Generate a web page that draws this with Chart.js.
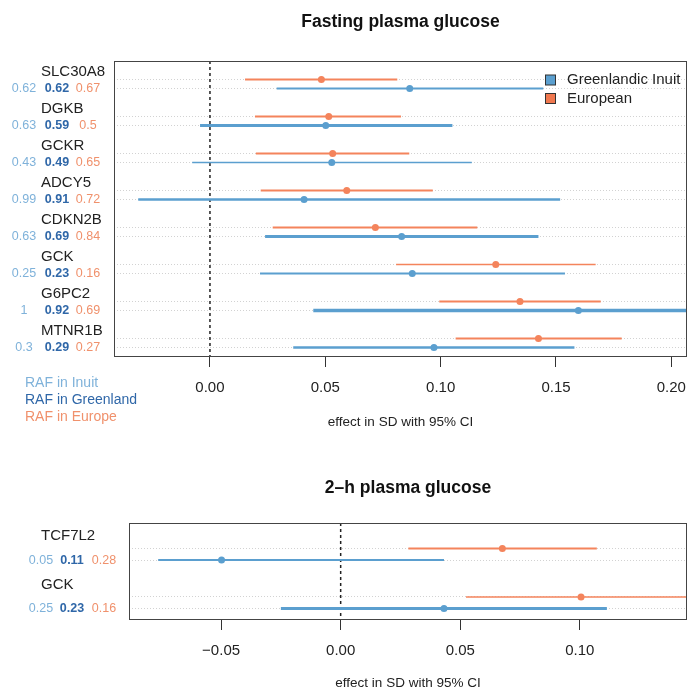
<!DOCTYPE html>
<html>
<head>
<meta charset="utf-8">
<script src="https://cdn.jsdelivr.net/npm/chart.js@4.4.1/dist/chart.umd.min.js"></script>
<style>
  html, body { margin: 0; padding: 0; background: #fff; overflow: hidden; }
  canvas { position: absolute; left: 0; display: block; }
  #fastingChart { top: 0; }
  #twohChart { top: 440px; }
</style>
</head>
<body>
<canvas id="fastingChart" width="688" height="440"></canvas>
<canvas id="twohChart" width="688" height="251"></canvas>
<script>
// ---- Fasting plasma glucose ----
const fgGenes = ['SLC30A8', 'DGKB', 'GCKR', 'ADCY5', 'CDKN2B', 'GCK', 'G6PC2', 'MTNR1B'];
const fgRafInuit = ['0.62', '0.63', '0.43', '0.99', '0.63', '0.25', '1', '0.3'];
const fgRafGreenland = ['0.62', '0.59', '0.49', '0.91', '0.69', '0.23', '0.92', '0.29'];
const fgRafEurope = ['0.67', '0.5', '0.65', '0.72', '0.84', '0.16', '0.69', '0.27'];
const fgInuitEst = [0.0866, 0.0502, 0.0528, 0.0408, 0.0831, 0.0877, 0.1597, 0.0971];
const fgInuitLo = [0.0289, -0.0043, -0.0077, -0.0311, 0.0239, 0.0217, 0.0448, 0.0361];
const fgInuitHi = [0.1445, 0.1051, 0.1135, 0.1518, 0.1424, 0.1539, 0.2746, 0.1580];
const fgEuroEst = [0.0483, 0.0515, 0.0532, 0.0593, 0.0717, 0.1239, 0.1344, 0.1424];
const fgEuroLo = [0.0152, 0.0195, 0.0199, 0.0220, 0.0272, 0.0807, 0.0994, 0.1065];
const fgEuroHi = [0.0812, 0.0828, 0.0864, 0.0966, 0.1159, 0.1672, 0.1694, 0.1785];
const fgTicks = [0, 0.05, 0.10, 0.15, 0.20];

// ---- 2-h plasma glucose ----
const thGenes = ['TCF7L2', 'GCK'];
const thRafInuit = ['0.05', '0.25'];
const thRafGreenland = ['0.11', '0.23'];
const thRafEurope = ['0.28', '0.16'];
const thInuitEst = [-0.0498, 0.0432];
const thInuitLo = [-0.0763, -0.0250];
const thInuitHi = [0.0432, 0.1113];
const thEuroEst = [0.0676, 0.1005];
const thEuroLo = [0.0283, 0.0524];
const thEuroHi = [0.1071, 0.1486];
const thTicks = [-0.05, 0, 0.05, 0.10];

const legendLabels = ['Greenlandic Inuit', 'European'];
const rafKey = ['RAF in Inuit', 'RAF in Greenland', 'RAF in Europe'];

// line widths (styling, not data)
const fgInuitWidth = [2, 3, 1.5, 2.5, 3, 2, 3.5, 2.5];
const fgEuroWidth = [2, 2, 2, 2, 2, 1.5, 2, 2];
const thInuitWidth = [2, 3];
const thEuroWidth = [2, 1.5];

const INUIT = '#5b9fcf';
const EURO = '#f4845c';
const TXT_INUIT = '#7fb2da';
const TXT_GREEN = '#2f67a8';
const TXT_EURO = '#f0916c';
const BLUE_OFF = 0.24;
const FONT = '"Liberation Sans", Arial, Helvetica, sans-serif';

Chart.defaults.font.family = FONT;
Chart.defaults.color = '#222';

const fmt = v => v.toFixed(2).replace('-', '\u2212');

// box, gene names, RAF numbers and legends
const panelDecor = {
  id: 'panelDecor',
  afterDraw(chart, args, o) {
    const { ctx, chartArea: a } = chart;
    const ys = chart.scales.y;
    ctx.save();
    ctx.strokeStyle = '#444';
    ctx.lineWidth = 1;
    ctx.strokeRect(a.left + 0.5, a.top + 0.5, a.right - a.left - 1, a.bottom - a.top - 1);

    ctx.textBaseline = 'middle';
    o.genes.forEach((g, i) => {
      ctx.font = '15px ' + FONT;
      ctx.fillStyle = '#222';
      ctx.textAlign = 'left';
      ctx.fillText(g, o.geneX, ys.getPixelForValue(i + o.labelOff));
      const yy = ys.getPixelForValue(i + BLUE_OFF);
      ctx.textAlign = 'center';
      ctx.font = '12.5px ' + FONT;
      ctx.fillStyle = TXT_INUIT;
      ctx.fillText(o.rafInuit[i], o.cols[0], yy);
      ctx.font = 'bold 12.5px ' + FONT;
      ctx.fillStyle = TXT_GREEN;
      ctx.fillText(o.rafGreenland[i], o.cols[1], yy);
      ctx.font = '12.5px ' + FONT;
      ctx.fillStyle = TXT_EURO;
      ctx.fillText(o.rafEurope[i], o.cols[2], yy);
    });

    if (o.showKey) {
      ctx.textAlign = 'left';
      ctx.font = '14px ' + FONT;
      [TXT_INUIT, TXT_GREEN, TXT_EURO].forEach((c, k) => {
        ctx.fillStyle = c;
        ctx.fillText(rafKey[k], 25, 383 + k * 17);
      });
      // legend
      [INUIT, '#f0784f'].forEach((c, k) => {
        const cy = 80 + k * 18.5;
        ctx.fillStyle = c;
        ctx.fillRect(545.5, cy - 5, 10, 10);
        ctx.strokeStyle = '#333';
        ctx.strokeRect(545.5, cy - 5, 10, 10);
        ctx.fillStyle = '#222';
        ctx.font = '15px ' + FONT;
        ctx.fillText(legendLabels[k], 567, cy);
      });
    }
    ctx.restore();
  }
};

function makePanel(id, p) {
  const n = p.genes.length;
  const yMin = p.yMin, yMax = p.yMin + n;
  const rows = [];
  for (let i = 0; i < n; i++) rows.push(i, i + BLUE_OFF);

  const datasets = [];
  // point estimates (drawn on top)
  datasets.push({
    label: legendLabels[1],
    data: p.euroEst.map((v, i) => ({ x: v, y: i })),
    pointRadius: 3.5, pointBackgroundColor: EURO, pointBorderWidth: 0, showLine: false, clip: 0
  });
  datasets.push({
    label: legendLabels[0],
    data: p.inuitEst.map((v, i) => ({ x: v, y: i + BLUE_OFF })),
    pointRadius: 3.5, pointBackgroundColor: INUIT, pointBorderWidth: 0, showLine: false, clip: 0
  });
  // 95% CI segments
  for (let i = 0; i < n; i++) {
    datasets.push({
      data: [{ x: p.euroLo[i], y: i }, { x: p.euroHi[i], y: i }],
      showLine: true, borderColor: EURO, borderWidth: p.euroWidth[i], pointRadius: 0, clip: 0
    });
    datasets.push({
      data: [{ x: p.inuitLo[i], y: i + BLUE_OFF }, { x: p.inuitHi[i], y: i + BLUE_OFF }],
      showLine: true, borderColor: INUIT, borderWidth: p.inuitWidth[i], pointRadius: 0, clip: 0
    });
  }
  // reference line at zero
  datasets.push({
    data: [{ x: 0, y: yMin }, { x: 0, y: yMax }],
    showLine: true, borderColor: '#222', borderWidth: 1.5, borderDash: [3, 3], pointRadius: 0, clip: 0
  });

  return new Chart(document.getElementById(id), {
    type: 'scatter',
    data: { datasets },
    options: {
      responsive: false,
      animation: false,
      devicePixelRatio: 1,
      layout: { autoPadding: false, padding: { left: p.left, right: 1, top: 0, bottom: 0 } },
      scales: {
        x: {
          type: 'linear', min: p.xMin, max: p.xMax,
          afterBuildTicks: s => { s.ticks = p.ticks.map(v => ({ value: v })); },
          afterFit: s => { s.height = p.axisH; s.paddingLeft = 0; s.paddingRight = 0; },
          ticks: { callback: v => fmt(v), font: { size: 15 }, color: '#222', padding: 12, maxRotation: 0, autoSkip: false },
          grid: { drawOnChartArea: false, drawTicks: true, tickLength: 10, color: '#333' },
          border: { display: false },
          title: { display: true, text: 'effect in SD with 95% CI', font: { size: 13.5 }, color: '#222', padding: { top: 4, bottom: p.xTitleBottom } }
        },
        y: {
          type: 'linear', min: yMin, max: yMax, reverse: true,
          afterBuildTicks: s => { s.ticks = rows.map(v => ({ value: v })); },
          afterFit: s => { s.width = 0; s.paddingTop = 0; s.paddingBottom = 0; },
          ticks: { display: false },
          grid: { drawTicks: false, color: '#d2d2d2', lineWidth: 1 },
          border: { display: false, dash: [1, 2] }
        }
      },
      plugins: {
        legend: { display: false },
        tooltip: { enabled: false },
        title: {
          display: true, text: p.title, fullSize: false,
          font: { size: 17.5, weight: 'bold' }, color: '#111',
          padding: p.titlePad
        },
        panelDecor: p.decor
      }
    },
    plugins: [panelDecor]
  });
}

makePanel('fastingChart', {
  title: 'Fasting plasma glucose', genes: fgGenes,
  inuitEst: fgInuitEst, inuitLo: fgInuitLo, inuitHi: fgInuitHi, inuitWidth: fgInuitWidth,
  euroEst: fgEuroEst, euroLo: fgEuroLo, euroHi: fgEuroHi, euroWidth: fgEuroWidth,
  ticks: fgTicks, xMin: -0.0416, xMax: 0.2068, yMin: -0.5,
  left: 114, axisH: 83, xTitleBottom: 10, titlePad: { top: 12, bottom: 28 },
  decor: { genes: fgGenes, rafInuit: fgRafInuit, rafGreenland: fgRafGreenland, rafEurope: fgRafEurope,
           geneX: 41, cols: [24, 57, 88], labelOff: -0.2, showKey: true }
});

makePanel('twohChart', {
  title: '2\u2013h plasma glucose', genes: thGenes,
  inuitEst: thInuitEst, inuitLo: thInuitLo, inuitHi: thInuitHi, inuitWidth: thInuitWidth,
  euroEst: thEuroEst, euroLo: thEuroLo, euroHi: thEuroHi, euroWidth: thEuroWidth,
  ticks: thTicks, xMin: -0.0885, xMax: 0.1448, yMin: -0.525,
  left: 129, axisH: 71, xTitleBottom: 0, titlePad: { top: 38, bottom: 24 },
  decor: { genes: thGenes, rafInuit: thRafInuit, rafGreenland: thRafGreenland, rafEurope: thRafEurope,
           geneX: 41, cols: [41, 72, 104], labelOff: -0.25, showKey: false }
});
</script>
</body>
</html>
